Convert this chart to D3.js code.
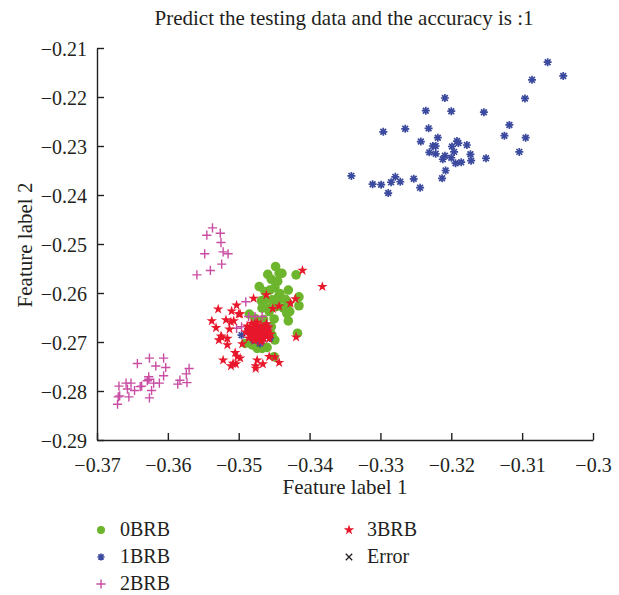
<!DOCTYPE html>
<html lang="en">
<head>
<meta charset="UTF-8">
<title>Predict the testing data</title>
<script src="https://d3js.org/d3.v7.min.js"></script>
<style>
    body { margin: 0; background: #fff; }
    text { font-family: "Liberation Serif", "DejaVu Serif", serif; fill: #231f20; }
</style>
</head>
<body>
<script>
// class 0BRB (green dots)
const brb0 = [
    [-0.3448,-0.2546],[-0.3443,-0.2560],[-0.3439,-0.2560],[-0.3459,-0.2562],[-0.3454,-0.2572],
    [-0.3419,-0.2563],[-0.3471,-0.2587],[-0.3449,-0.2589],[-0.3463,-0.2597],[-0.3456,-0.2594],
    [-0.3442,-0.2601],[-0.3444,-0.2608],[-0.3430,-0.2594],[-0.3415,-0.2608],[-0.3468,-0.2616],
    [-0.3463,-0.2614],[-0.3453,-0.2614],[-0.3443,-0.2614],[-0.3434,-0.2613],[-0.3430,-0.2621],
    [-0.3467,-0.2631],[-0.3458,-0.2631],[-0.3447,-0.2628],[-0.3437,-0.2631],[-0.3428,-0.2638],
    [-0.3415,-0.2626],[-0.3430,-0.2657],[-0.3450,-0.2653],[-0.3457,-0.2638],[-0.3485,-0.2643],
    [-0.3477,-0.2652],[-0.3465,-0.2654],[-0.3417,-0.2682],[-0.3453,-0.2686],[-0.3449,-0.2696],
    [-0.3460,-0.2711],[-0.3481,-0.2706],[-0.3474,-0.2713],[-0.3467,-0.2713],[-0.3450,-0.2730],
    [-0.3478,-0.2699],[-0.3454,-0.2669],[-0.3491,-0.2703],[-0.3432,-0.2642],[-0.3445,-0.2576]
];

// class 1BRB (blue asterisks)
const brb1 = [
    [-0.3064,-0.2129],[-0.3042,-0.2157],[-0.3086,-0.2165],[-0.3096,-0.2203],[-0.3209,-0.2202],
    [-0.3236,-0.2228],[-0.3200,-0.2229],[-0.3154,-0.2231],[-0.3118,-0.2257],[-0.3296,-0.2271],
    [-0.3265,-0.2265],[-0.3232,-0.2264],[-0.3125,-0.2279],[-0.3095,-0.2283],[-0.3243,-0.2291],
    [-0.3219,-0.2283],[-0.3192,-0.2290],[-0.3190,-0.2294],[-0.3178,-0.2298],[-0.3226,-0.2300],
    [-0.3222,-0.2300],[-0.3199,-0.2301],[-0.3196,-0.2312],[-0.3231,-0.2313],[-0.3222,-0.2316],
    [-0.3173,-0.2317],[-0.3104,-0.2312],[-0.3209,-0.2320],[-0.3212,-0.2327],[-0.3200,-0.2324],
    [-0.3151,-0.2325],[-0.3194,-0.2335],[-0.3186,-0.2333],[-0.3172,-0.2330],[-0.3208,-0.2350],
    [-0.3213,-0.2366],[-0.3341,-0.2361],[-0.3311,-0.2378],[-0.3299,-0.2379],[-0.3279,-0.2363],
    [-0.3285,-0.2374],[-0.3272,-0.2373],[-0.3253,-0.2367],[-0.3244,-0.2385],[-0.3289,-0.2396],
    [-0.3496,-0.2686],[-0.3479,-0.2696],[-0.3470,-0.2703],[-0.3456,-0.2692],[-0.3487,-0.2673],
    [-0.3475,-0.2680],[-0.3465,-0.2687]
];

// class 2BRB (magenta plus)
const brb2 = [
    [-0.3537,-0.2467],[-0.3545,-0.2482],[-0.3526,-0.2478],[-0.3525,-0.2497],[-0.3548,-0.2520],
    [-0.3522,-0.2516],[-0.3515,-0.2520],[-0.3524,-0.2541],[-0.3540,-0.2554],[-0.3559,-0.2563],
    [-0.3671,-0.2827],[-0.3670,-0.2812],[-0.3668,-0.2810],[-0.3669,-0.2790],[-0.3659,-0.2784],
    [-0.3652,-0.2784],[-0.3657,-0.2796],[-0.3655,-0.2812],[-0.3647,-0.2799],[-0.3643,-0.2744],
    [-0.3639,-0.2791],[-0.3637,-0.2790],[-0.3627,-0.2771],[-0.3626,-0.2733],[-0.3626,-0.2814],
    [-0.3623,-0.2799],[-0.3629,-0.2779],[-0.3627,-0.2776],[-0.3617,-0.2749],[-0.3620,-0.2784],
    [-0.3612,-0.2784],[-0.3606,-0.2733],[-0.3603,-0.2752],[-0.3606,-0.2769],[-0.3586,-0.2786],
    [-0.3583,-0.2778],[-0.3574,-0.2765],[-0.3573,-0.2783],[-0.3570,-0.2754],
    [-0.3490,-0.2618],[-0.3486,-0.2648],[-0.3477,-0.2648],[-0.3467,-0.2648],[-0.3503,-0.2672],
    [-0.3496,-0.2669],[-0.3467,-0.2699],[-0.3460,-0.2665],[-0.3459,-0.2672],[-0.3480,-0.2680],
    [-0.3474,-0.2686]
];

// class 3BRB (red stars)
const brb3 = [
    [-0.3410,-0.2554],[-0.3382,-0.2587],[-0.3461,-0.2604],[-0.3420,-0.2612],[-0.3427,-0.2621],
    [-0.3479,-0.2611],[-0.3443,-0.2627],[-0.3452,-0.2632],[-0.3503,-0.2625],[-0.3529,-0.2633],
    [-0.3510,-0.2637],[-0.3500,-0.2643],[-0.3498,-0.2643],[-0.3538,-0.2657],[-0.3518,-0.2655],
    [-0.3511,-0.2659],[-0.3507,-0.2657],[-0.3532,-0.2671],[-0.3513,-0.2674],[-0.3525,-0.2688],
    [-0.3524,-0.2690],[-0.3528,-0.2696],[-0.3516,-0.2693],[-0.3516,-0.2706],[-0.3495,-0.2704],
    [-0.3419,-0.2690],[-0.3505,-0.2722],[-0.3502,-0.2730],[-0.3498,-0.2733],[-0.3522,-0.2737],
    [-0.3511,-0.2749],[-0.3508,-0.2744],[-0.3504,-0.2745],[-0.3476,-0.2749],[-0.3476,-0.2754],
    [-0.3474,-0.2737],[-0.3466,-0.2745],[-0.3457,-0.2730],[-0.3449,-0.2731],[-0.3443,-0.2742],
    // dense centre
    [-0.3488,-0.2668],[-0.3485,-0.2676],[-0.3483,-0.2684],[-0.3480,-0.2671],[-0.3479,-0.2690],
    [-0.3477,-0.2663],[-0.3476,-0.2679],[-0.3475,-0.2686],[-0.3473,-0.2670],[-0.3472,-0.2694],
    [-0.3471,-0.2676],[-0.3470,-0.2682],[-0.3469,-0.2666],[-0.3468,-0.2688],[-0.3467,-0.2673],
    [-0.3466,-0.2679],[-0.3465,-0.2692],[-0.3464,-0.2669],[-0.3463,-0.2684],[-0.3462,-0.2675],
    [-0.3460,-0.2688],[-0.3459,-0.2679],[-0.3458,-0.2670],[-0.3482,-0.2662],[-0.3474,-0.2660],
    [-0.3461,-0.2663],[-0.3490,-0.2680],[-0.3486,-0.2692],[-0.3478,-0.2697],[-0.3469,-0.2699],
    [-0.3457,-0.2693],[-0.3455,-0.2684],[-0.3481,-0.2679],[-0.3472,-0.2685],[-0.3466,-0.2685],
    [-0.3476,-0.2672],[-0.3470,-0.2690],[-0.3463,-0.2678],[-0.3484,-0.2687],[-0.3467,-0.2696]
];

const xTicks = [-0.37, -0.36, -0.35, -0.34, -0.33, -0.32, -0.31, -0.3];
const yTicks = [-0.21, -0.22, -0.23, -0.24, -0.25, -0.26, -0.27, -0.28, -0.29];
const legendNames = ["0BRB", "1BRB", "2BRB", "3BRB", "Error"];

const width = 619, height = 595;
const margin = { left: 97, right: 26, top: 48, bottom: 155 };

const svg = d3.select("body").append("svg")
    .attr("width", width).attr("height", height);

const x = d3.scaleLinear().domain([-0.37, -0.3]).range([margin.left, width - margin.right]);
const y = d3.scaleLinear().domain([-0.29, -0.21]).range([height - margin.bottom, margin.top]);

const fmt = d => String(+d.toFixed(2)).replace("-", "\u2212");

// axes (ticks point inward)
const xAxis = svg.append("g")
    .attr("transform", `translate(0,${y(-0.29)})`)
    .call(d3.axisBottom(x).tickValues(xTicks).tickFormat(fmt).tickSizeInner(-7).tickSizeOuter(0).tickPadding(18));
const yAxis = svg.append("g")
    .attr("transform", `translate(${x(-0.37)},0)`)
    .call(d3.axisLeft(y).tickValues(yTicks).tickFormat(fmt).tickSizeInner(-7).tickSizeOuter(0).tickPadding(10));

[xAxis, yAxis].forEach(a => {
    a.select(".domain").attr("stroke", "#231f20").attr("stroke-width", 1.4);
    a.selectAll(".tick line").attr("stroke", "#231f20").attr("stroke-width", 1.4);
    a.selectAll(".tick text").attr("font-size", 20).attr("fill", "#231f20")
        .style("font-family", "'Liberation Serif', serif");
});
yAxis.selectAll(".tick text").attr("dy", "0.35em");

// marker drawers
const colors = { g: "#6cb52d", b: "#3b4a9e", m: "#c94ea3", r: "#e8172b" };

function drawDot(sel, r) {
    sel.append("circle").attr("r", r).attr("fill", colors.g);
}
function drawAsterisk(sel, s) {
    const d = `M${-s},0L${s},0M0,${-s}L0,${s}` +
        `M${-s * 0.72},${-s * 0.72}L${s * 0.72},${s * 0.72}M${-s * 0.72},${s * 0.72}L${s * 0.72},${-s * 0.72}`;
    sel.append("path").attr("d", d).attr("stroke", colors.b).attr("stroke-width", 1.7).attr("fill", "none");
}
function drawPlus(sel, s) {
    sel.append("path").attr("d", `M${-s},0L${s},0M0,${-s}L0,${s}`)
        .attr("stroke", colors.m).attr("stroke-width", 1.4).attr("fill", "none");
}
function drawStar(sel, size) {
    sel.append("path").attr("d", d3.symbol(d3.symbolStar, size)()).attr("fill", colors.r);
}
function drawCross(sel, s) {
    sel.append("path").attr("d", `M${-s},${-s}L${s},${s}M${-s},${s}L${s},${-s}`)
        .attr("stroke", "#231f20").attr("stroke-width", 1.3).attr("fill", "none");
}

const plot = svg.append("g");

function scatter(data, draw, arg) {
    plot.append("g").selectAll("g").data(data).join("g")
        .attr("transform", d => `translate(${x(d[0])},${y(d[1])})`)
        .each(function () { draw(d3.select(this), arg); });
}

scatter(brb0, drawDot, 4.8);
scatter(brb1, drawAsterisk, 4);
scatter(brb2, drawPlus, 4.6);
scatter(brb3, drawStar, 34);

// titles
svg.append("text").attr("x", 344).attr("y", 25).attr("text-anchor", "middle")
    .attr("font-size", 21).text("Predict the testing data and the accuracy is :1");
svg.append("text").attr("x", 345).attr("y", 494).attr("text-anchor", "middle")
    .attr("font-size", 21).text("Feature label 1");
svg.append("text").attr("transform", "translate(32,245) rotate(-90)").attr("text-anchor", "middle")
    .attr("font-size", 21).text("Feature label 2");

// legend
const legendPos = [[101, 530], [101, 557], [101, 584], [349, 530], [349, 557]];
const legendDraw = [[drawDot, 4], [drawAsterisk, 3.6], [drawPlus, 4.6], [drawStar, 34], [drawCross, 3.2]];
legendNames.forEach((name, i) => {
    const g = svg.append("g").attr("transform", `translate(${legendPos[i][0]},${legendPos[i][1]})`);
    legendDraw[i][0](g, legendDraw[i][1]);
    g.append("text").attr("x", i < 3 ? 19 : 18).attr("y", 6).attr("font-size", 20).text(name);
});
</script>
</body>
</html>
